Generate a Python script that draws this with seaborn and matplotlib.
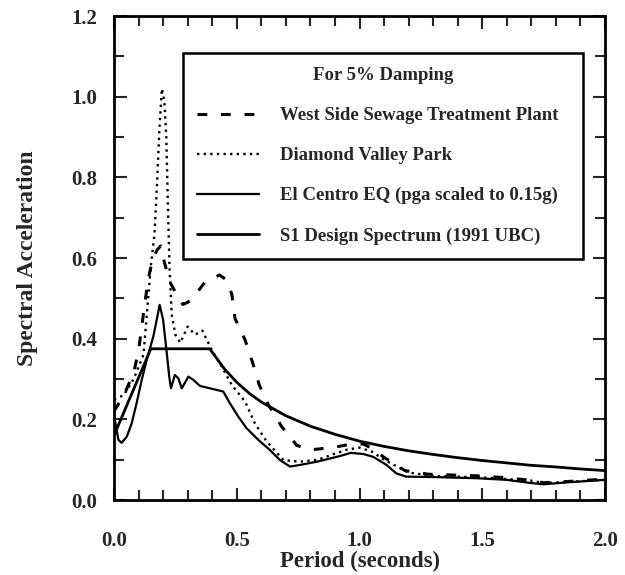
import matplotlib
matplotlib.use("Agg")
import matplotlib.pyplot as plt
from matplotlib.ticker import MultipleLocator
import seaborn as sns

# Period (s) and spectral acceleration (g)
west_t = [0.0, 0.04, 0.08, 0.1, 0.113, 0.126, 0.14, 0.155, 0.175, 0.19, 0.205,
          0.228, 0.255, 0.28, 0.3, 0.32, 0.37, 0.43, 0.46, 0.48, 0.493, 0.534,
          0.565, 0.592, 0.629, 0.683, 0.744, 0.79, 0.826, 0.907, 0.96, 1.016,
          1.06, 1.097, 1.185, 1.28, 1.375, 1.48, 1.58, 1.68, 1.75, 1.85, 2.0]
west_sa = [0.22, 0.26, 0.315, 0.37, 0.43, 0.49, 0.55, 0.59, 0.62, 0.63, 0.59,
           0.54, 0.51, 0.485, 0.49, 0.5, 0.54, 0.558, 0.545, 0.51, 0.45, 0.397,
           0.34, 0.285, 0.236, 0.182, 0.136, 0.125, 0.126, 0.132, 0.138, 0.139,
           0.125, 0.107, 0.073, 0.064, 0.062, 0.06, 0.056, 0.05, 0.043, 0.046, 0.052]

diamond_t = [0.0, 0.04, 0.08, 0.12, 0.15, 0.165, 0.175, 0.185, 0.195, 0.205,
             0.213, 0.22, 0.226, 0.235, 0.25, 0.27, 0.3, 0.33, 0.36, 0.4, 0.44,
             0.48, 0.534, 0.574, 0.622, 0.69, 0.758, 0.83, 0.9, 0.95, 1.0, 1.05,
             1.1, 1.2, 1.3, 1.5, 1.7, 1.75, 1.85, 2.0]
diamond_sa = [0.25, 0.26, 0.3, 0.36, 0.58, 0.66, 0.78, 0.92, 1.02, 0.99,
              0.9, 0.72, 0.58, 0.46, 0.41, 0.39, 0.43, 0.41, 0.42, 0.37, 0.33,
              0.285, 0.244, 0.19, 0.145, 0.099, 0.095, 0.1, 0.115, 0.125, 0.13, 0.12,
              0.1, 0.068, 0.06, 0.056, 0.048, 0.042, 0.045, 0.05]

centro_t = [0.0, 0.018, 0.031, 0.052, 0.072, 0.092, 0.113, 0.133, 0.16, 0.174,
            0.186, 0.2, 0.215, 0.225, 0.232, 0.248, 0.262, 0.276, 0.303, 0.323,
            0.35, 0.391, 0.445, 0.472, 0.506, 0.54, 0.588, 0.635, 0.676, 0.717,
            0.758, 0.826, 0.88, 0.92, 0.965, 1.016, 1.056, 1.11, 1.15, 1.19,
            1.3, 1.48, 1.6, 1.7, 1.75, 1.85, 2.0]
centro_sa = [0.21, 0.149, 0.142, 0.157, 0.19, 0.24, 0.298, 0.347, 0.405, 0.447,
             0.484, 0.447, 0.364, 0.306, 0.277, 0.31, 0.302, 0.277, 0.306, 0.298,
             0.283, 0.277, 0.269, 0.24, 0.207, 0.178, 0.149, 0.124, 0.099, 0.083,
             0.087, 0.095, 0.103, 0.109, 0.117, 0.114, 0.107, 0.087, 0.066, 0.058,
             0.057, 0.054, 0.05, 0.042, 0.039, 0.044, 0.05]

design_t = [0.0, 0.15, 0.39, 0.45, 0.5, 0.55, 0.6, 0.7, 0.8, 0.9, 1.0, 1.1,
            1.2, 1.3, 1.4, 1.5, 1.6, 1.7, 1.8, 1.9, 2.0]
design_sa = [0.16, 0.375, 0.375, 0.325, 0.292, 0.265, 0.243, 0.209, 0.183, 0.163,
             0.146, 0.133, 0.122, 0.113, 0.105, 0.098, 0.092, 0.086, 0.082, 0.077, 0.073]

sns.set_style("ticks")
plt.rcParams['font.family'] = ['Liberation Serif', 'DejaVu Serif']
plt.rcParams['font.weight'] = 'bold'

fig = plt.figure(figsize=(6.25, 5.75), dpi=100)
ax = fig.add_axes([0.1824, 0.1304, 0.7856, 0.8416])

sns.lineplot(x=west_t, y=west_sa, ax=ax, color='black', lw=2.2,
             linestyle=(0, (3.2, 4.5)), label='West Side Sewage Treatment Plant')
sns.lineplot(x=diamond_t, y=diamond_sa, ax=ax, color='black', lw=1.7,
             linestyle=(0, (1, 1.8)), label='Diamond Valley Park')
sns.lineplot(x=centro_t, y=centro_sa, ax=ax, color='black', lw=1.6,
             label='El Centro EQ (pga scaled to 0.15g)')
sns.lineplot(x=design_t, y=design_sa, ax=ax, color='black', lw=2,
             label='S1 Design Spectrum (1991 UBC)')

ax.set_xlim(0, 2.0)
ax.set_ylim(0, 1.2)
ax.xaxis.set_major_locator(MultipleLocator(0.5))
ax.xaxis.set_minor_locator(MultipleLocator(0.1))
ax.yaxis.set_major_locator(MultipleLocator(0.2))
ax.yaxis.set_minor_locator(MultipleLocator(0.1))
ax.tick_params(which='both', direction='in', top=True, right=True, width=1.5,
               labelsize=15)
ax.tick_params(axis='x', which='major', pad=22)
ax.tick_params(axis='y', which='major', pad=12)
ax.tick_params(which='major', length=9)
ax.tick_params(which='minor', length=7)
ax.set_xticks([0.0, 0.5, 1.0, 1.5, 2.0])
ax.set_xticklabels(["0.0", "0.5", "1.0", "1.5", "2.0"], fontweight='bold')
ax.set_yticks([0.0, 0.2, 0.4, 0.6, 0.8, 1.0, 1.2])
ax.set_yticklabels(["0.0", "0.2", "0.4", "0.6", "0.8", "1.0", "1.2"], fontweight='bold')
for s in ax.spines.values():
    s.set_linewidth(2)
    s.set_color('black')

ax.set_xlabel('Period (seconds)', fontsize=16.5, fontweight='bold', labelpad=0)
ax.set_ylabel('Spectral Acceleration', fontsize=17, fontweight='bold', labelpad=24)

leg = ax.legend(loc='upper left', bbox_to_anchor=(0.1405, 0.9236, 0.8145, 0.0),
                mode='expand', title='For 5% Damping',
                fontsize=13.5, title_fontsize=13.5, frameon=True, fancybox=False,
                edgecolor='black', framealpha=1, handlelength=3.3, handletextpad=1.1,
                labelspacing=1.22, borderpad=0.75, borderaxespad=0)
leg.get_frame().set_linewidth(1.8)
leg.get_title().set_fontweight('bold')
for t in leg.get_texts():
    t.set_fontweight('bold')

fig.savefig('out.png', dpi=100)
